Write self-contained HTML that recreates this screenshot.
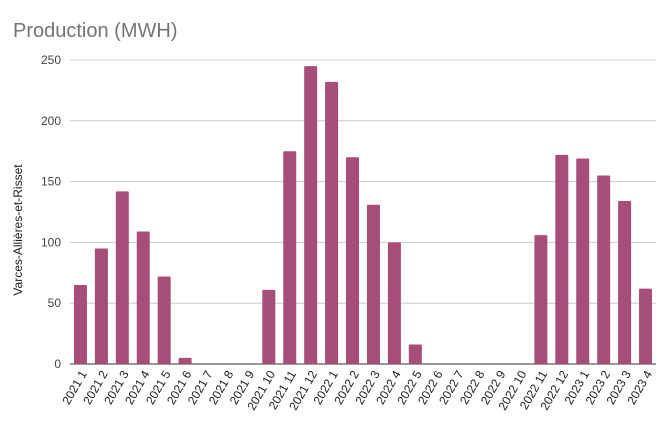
<!DOCTYPE html>
<html><head><meta charset="utf-8">
<style>
html,body{margin:0;padding:0;background:#fff;}
svg{display:block;font-family:"Liberation Sans",sans-serif;}
</style></head>
<body>
<svg id="chart" width="670" height="430" viewBox="0 0 670 430">
<text x="13" y="37" font-size="20" fill="#757575">Production (MWH)</text>
<text transform="translate(22,230) rotate(-90)" text-anchor="middle" font-size="12" fill="#222">Varces-Allières-et-Risset</text>
<g id="grid"></g>
<g id="bars"></g>
<g id="xlabels"></g>
</svg>
<script>
const categories = ["2021 1","2021 2","2021 3","2021 4","2021 5","2021 6","2021 7","2021 8","2021 9","2021 10","2021 11","2021 12","2022 1","2022 2","2022 3","2022 4","2022 5","2022 6","2022 7","2022 8","2022 9","2022 10","2022 11","2022 12","2023 1","2023 2","2023 3","2023 4"];
const values = [65,95,142,109,72,5,0,0,0,61,175,245,232,170,131,100,16,0,0,0,0,0,106,172,169,155,134,62];
const yTicks = [0,50,100,150,200,250];
const NS="http://www.w3.org/2000/svg";
const x0=70,x1=656,yZero=364,yTop=60,yMax=250;
const step=(x1-x0)/categories.length;
function xScale(i){return x0+step*(i+0.5);}
function yScale(v){return yZero-(v/yMax)*(yZero-yTop);}
const grid=document.getElementById('grid');
yTicks.forEach(t=>{
  const l=document.createElementNS(NS,'line');
  l.setAttribute('x1',x0);l.setAttribute('x2',x1);
  l.setAttribute('y1',yScale(t));l.setAttribute('y2',yScale(t));
  l.setAttribute('stroke',t===0?'#333':'#ccc');l.setAttribute('stroke-width','1');
  
  
  grid.appendChild(l);
  const tx=document.createElementNS(NS,'text');
  tx.setAttribute('x',61);tx.setAttribute('y',yScale(t)+4);
  tx.setAttribute('text-anchor','end');tx.setAttribute('font-size','12');tx.setAttribute('fill','#444');
  tx.textContent=t;
  
  
  grid.appendChild(tx);
});
const bars=document.getElementById('bars');
const xl=document.getElementById('xlabels');
const bw=13;
categories.forEach((c,i)=>{
  const v=values[i];
  if(v>0){
    const r=document.createElementNS(NS,'rect');
    r.setAttribute('x',xScale(i)-bw/2);r.setAttribute('y',yScale(v));
    r.setAttribute('width',bw);r.setAttribute('height',yZero-yScale(v));
    r.setAttribute('fill','#a64d79');r.setAttribute('rx','1');
    
    
    bars.appendChild(r);
  }
  const t=document.createElementNS(NS,'text');
  const lx=xScale(i)+4,ly=yZero+8;
  t.setAttribute('transform','translate('+lx+','+ly+') rotate(-60)');
  t.setAttribute('text-anchor','end');t.setAttribute('font-size','12');t.setAttribute('fill','#222');
  t.setAttribute('dominant-baseline','middle');
  t.textContent=c;
  
  
  xl.appendChild(t);
});
</script>
</body></html>
